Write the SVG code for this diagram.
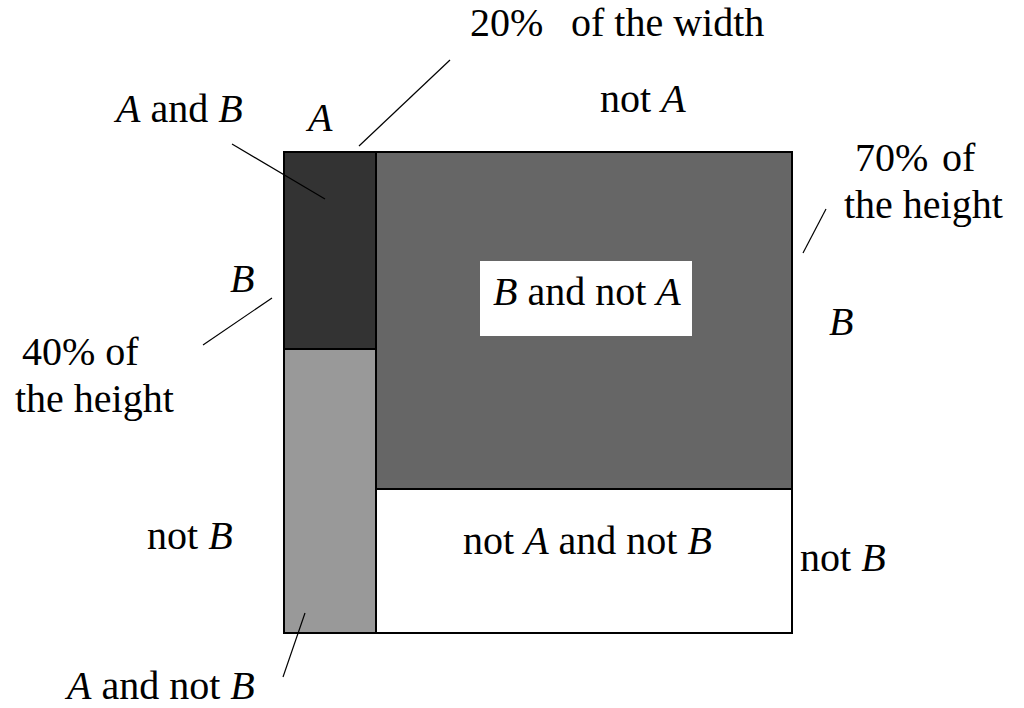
<svg xmlns="http://www.w3.org/2000/svg" width="1024" height="708" viewBox="0 0 1024 708" font-family="'Liberation Serif', 'DejaVu Serif', serif">
<style>
text{font-family:'Liberation Serif','DejaVu Serif',serif;font-size:40px;fill:#000}
.i{font-style:italic}
.cell{stroke:#000;stroke-width:2}
.ptr{stroke:#000;stroke-width:1.2;fill:none}
</style>
<rect width="1024" height="708" fill="#fff"/>
<g id="cell-a-and-b"><rect class="cell" x="284" y="152" width="92" height="197" fill="#333333"/></g>
<g id="cell-a-and-not-b"><rect class="cell" x="284" y="349" width="92" height="284" fill="#999999"/></g>
<g id="cell-b-and-not-a"><rect class="cell" x="376" y="152" width="416" height="337" fill="#666666"/>
<rect x="480" y="261" width="212" height="75" fill="#fff"/>
<text x="493" y="305"><tspan class="i">B</tspan> and not <tspan class="i">A</tspan></text></g>
<g id="cell-not-a-and-not-b"><rect class="cell" x="376" y="489" width="416" height="144" fill="#fff"/>
<text x="463" y="554">not <tspan class="i">A</tspan> and not <tspan class="i">B</tspan></text></g>
<g id="connectors">
<line class="ptr" x1="450" y1="60" x2="359" y2="146"/>
<line class="ptr" x1="232" y1="144" x2="325" y2="199"/>
<line class="ptr" x1="272" y1="298" x2="203" y2="345"/>
<line class="ptr" x1="826" y1="209" x2="803" y2="253"/>
<line class="ptr" x1="305" y1="613" x2="283" y2="677"/>
</g>
<g id="labels">
<text x="470" y="36">20%<tspan x="571">of the width</tspan></text>
<text x="600" y="112">not <tspan class="i">A</tspan></text>
<text x="116" y="122"><tspan class="i">A</tspan> and <tspan class="i">B</tspan></text>
<text x="308" y="131" class="i">A</text>
<text x="230" y="292" class="i">B</text>
<text x="22" y="365">40% of</text>
<text x="15" y="412">the height</text>
<text x="855" y="171">70%<tspan x="942">of</tspan></text>
<text x="844" y="218">the height</text>
<text x="829" y="335" class="i">B</text>
<text x="800" y="571">not <tspan class="i">B</tspan></text>
<text x="147" y="549">not <tspan class="i">B</tspan></text>
<text x="67" y="699"><tspan class="i">A</tspan> and not <tspan class="i">B</tspan></text>
</g>
</svg>
